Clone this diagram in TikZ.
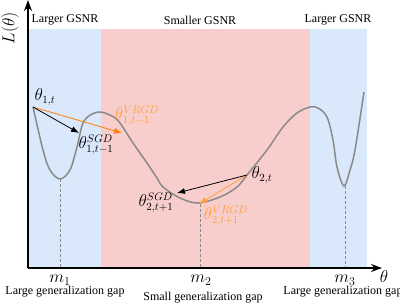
\documentclass[tikz,border=0pt]{standalone}
\usepackage{fontspec}
\setmainfont{Liberation Serif}
\usetikzlibrary{arrows.meta}
\definecolor{gblue}{HTML}{DAE8FC}
\definecolor{gpink}{HTML}{F8CECC}
\definecolor{dorange}{HTML}{FF8000}
\definecolor{lorange}{HTML}{FFA040}
\definecolor{curvegray}{HTML}{8A8A8A}
\begin{document}
\begin{tikzpicture}[x=1pt,y=-1pt,
  axisline/.style={line width=1.6pt,-{Stealth[length=11pt,width=8pt]}},
  txt/.style={font=\fontsize{12}{14}\selectfont,inner sep=0pt},
  mlab/.style={font=\fontsize{16}{18}\selectfont,inner sep=0pt},
  mbig/.style={font=\fontsize{18}{20}\selectfont,inner sep=0pt},
  loss/.style={curvegray,line width=1.5pt},
  guide/.style={curvegray,dash pattern=on 3pt off 2pt,line width=0.6pt},
  sgdarrow/.style={black,line width=0.8pt,-{Latex[length=8pt,width=6pt]}},
  vrarrow/.style={line width=0.8pt,-{Latex[length=8pt,width=6pt]}}]
\useasboundingbox (0,0) rectangle (400,306);
% regions
\fill[gblue] (28,29) rectangle (101,268);
\fill[gpink] (101,29) rectangle (310,268);
\fill[gblue] (310,29) rectangle (367,268);
% key points
\coordinate (t1) at (33,107);
\coordinate (s1) at (79,133);
\coordinate (v1) at (122,133);
\coordinate (t2) at (247,175);
\coordinate (s2) at (177,193);
\coordinate (v2) at (199,204);
\coordinate (min1) at (60,179);
\coordinate (min2) at (200,204);
\coordinate (min3) at (345,186);
\coordinate (o) at (28,268);
\coordinate (ytip) at (28,0);
\coordinate (xtip) at (382,268);
% dashed guides
\draw[guide] (min1) -- (min1 |- o);
\draw[guide] (min2) -- (min2 |- o);
\draw[guide] (min3) -- (min3 |- o);
% loss curve
\draw[loss] plot[smooth,tension=0.55] coordinates {
 (33,107) (43,150) (50,170) (60,179) (70,170) (77,147) (84,121) (98,112)
 (112,116) (120,123) (133,143) (147,163) (157,178) (163,187) (180,198)
 (198,203) (220,197) (237,187) (247,175) (267,150) (283,127) (297,113)
 (310,107) (318,108) (327,117) (333,140) (337,167) (344,186) (350,170)
 (355,150) (364,92)};
% axes
\draw[axisline] (o) -- (ytip);
\draw[axisline] (o) -- (xtip);
% arrows
\draw[vrarrow,dorange] (t1) -- (v1);
\draw[sgdarrow] (t1) -- (s1);
\draw[vrarrow,lorange] (t2) -- (v2);
\draw[sgdarrow] (t2) -- (s2);
% labels
\node[mlab,rotate=90,font=\fontsize{17}{19}\selectfont] (ylab) at (10,28) {$L(\theta)$};
\node[mlab] (xlab) at (384,276) {$\theta$};
\node[txt] (g1) at (65,20) {Larger GSNR};
\node[txt] (g2) at (200,20) {Smaller GSNR};
\node[txt] (g3) at (338,20) {Larger GSNR};
\node[mbig] (m1) at (60,280) {$m_1$};
\node[mbig] (m2) at (201,280) {$m_2$};
\node[mbig] (m3) at (345,280) {$m_3$};
\node[txt] (gap1) at (65,292) {Large generalization gap};
\node[txt] (gap2) at (203,298) {Small generalization gap};
\node[txt] (gap3) at (343,292) {Large generalization gap};
\node[mlab] (lt1) at (45,97) {$\theta_{1,t}$};
\node[mlab] (ls1) at (96,145) {$\theta^{SGD}_{1,t-1}$};
\node[mlab,text=lorange] (lv1) at (137,116) {$\theta^{VRGD}_{1,t-1}$};
\node[mlab] (lt2) at (262,175) {$\theta_{2,t}$};
\node[mlab] (ls2) at (156,203) {$\theta^{SGD}_{2,t+1}$};
\node[mlab,text=lorange] (lv2) at (226,216) {$\theta^{VRGD}_{2,t+1}$};
\end{tikzpicture}
\end{document}
